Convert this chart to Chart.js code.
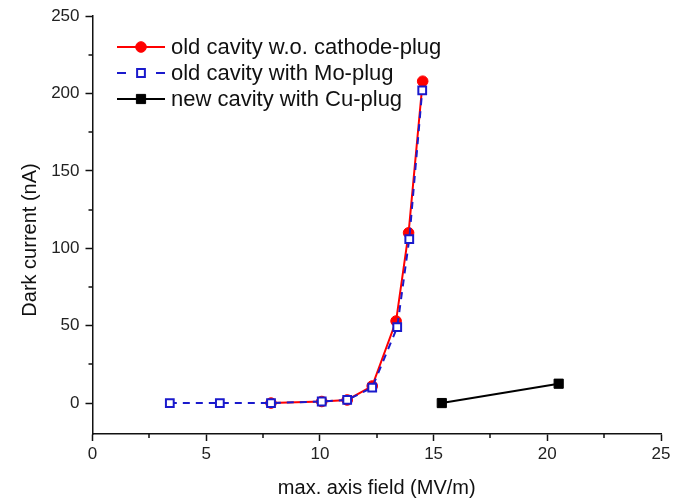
<!DOCTYPE html>
<html>
<head>
<meta charset="utf-8">
<script src="https://cdn.jsdelivr.net/npm/chart.js@4/dist/chart.umd.min.js"></script>
<style>
html,body{margin:0;padding:0;background:#fff;}
#wrap{width:675px;height:504px;position:relative;}
</style>
</head>
<body>
<div id="wrap"><canvas id="c" width="675" height="504"></canvas></div>
<script>
const seriesNames = ["old cavity w.o. cathode-plug", "old cavity with Mo-plug", "new cavity with Cu-plug"];
const oldNoPlugX = [7.85, 10.08, 11.2, 12.3, 13.35, 13.9, 14.52];
const oldNoPlugY = [0, 1, 2, 11, 53, 110, 208];
const moPlugX = [3.4, 5.6, 7.85, 10.08, 11.2, 12.3, 13.4, 13.93, 14.5];
const moPlugY = [0, 0, 0, 1, 2, 10, 49, 106, 202];
const cuPlugX = [15.36, 20.5];
const cuPlugY = [0, 12.5];
const xTicks = [0, 5, 10, 15, 20, 25];
const yTicks = [0, 50, 100, 150, 200, 250];
const xTitle = 'max. axis field (MV/m)';
const yTitle = 'Dark current (nA)';

const FONT = "Arial, 'Liberation Sans', sans-serif";
const pts = (xs, ys) => xs.map((x, i) => ({x: x, y: ys[i]}));

const minorTicks = {
  id: 'minorTicks',
  afterDraw(chart) {
    const ctx = chart.ctx, xs = chart.scales.x, ys = chart.scales.y;
    ctx.save();
    ctx.strokeStyle = '#111';
    ctx.lineWidth = 1.5;
    ctx.beginPath();
    for (let v = 2.5; v < 25; v += 5) {
      const px = Math.round(xs.getPixelForValue(v));
      ctx.moveTo(px, xs.top); ctx.lineTo(px, xs.top + 4);
    }
    for (let v = 25; v < 250; v += 50) {
      const py = Math.round(ys.getPixelForValue(v));
      ctx.moveTo(ys.right - 4, py); ctx.lineTo(ys.right, py);
    }
    ctx.stroke();
    // y axis title
    ctx.fillStyle = '#111';
    ctx.font = '20px ' + FONT;
    ctx.textAlign = 'center';
    ctx.textBaseline = 'middle';
    ctx.translate(30, 240);
    ctx.rotate(-Math.PI / 2);
    ctx.fillText(yTitle, 0, 0);
    ctx.restore();
  }
};

const legendPlugin = {
  id: 'customLegend',
  afterDraw(chart) {
    const ctx = chart.ctx;
    const order = [0, 1, 2];
    const x0 = 117, x1 = 165, tx = 171, y0 = 47, dy = 26;
    ctx.save();
    order.forEach((di, row) => {
      const ds = chart.data.datasets[di];
      const y = y0 + row * dy;
      ctx.strokeStyle = ds.borderColor;
      ctx.lineWidth = ds.borderWidth;
      ctx.beginPath();
      if (ds.borderDash) {
        ctx.moveTo(x0, y); ctx.lineTo(x0 + 9, y);
        ctx.moveTo(x1 - 9, y); ctx.lineTo(x1, y);
      } else {
        ctx.moveTo(x0, y); ctx.lineTo(x1, y);
      }
      ctx.stroke();
      const cx = (x0 + x1) / 2;
      ctx.fillStyle = ds.pointBackgroundColor;
      ctx.strokeStyle = ds.pointBorderColor;
      ctx.lineWidth = ds.pointBorderWidth;
      Chart.helpers.drawPoint(ctx, {pointStyle: ds.pointStyle, radius: ds.pointRadius, borderWidth: ds.pointBorderWidth, rotation: 0}, cx, y);
      ctx.fillStyle = '#111';
      ctx.font = '22px ' + FONT;
      ctx.textBaseline = 'middle';
      ctx.fillText(ds.label, tx, y + 1);
    });
    ctx.restore();
  }
};

new Chart(document.getElementById('c'), {
  type: 'scatter',
  data: {
    datasets: [
      {
        label: seriesNames[0], data: pts(oldNoPlugX, oldNoPlugY), showLine: true,
        borderColor: '#ff0000', borderWidth: 2, pointStyle: 'circle', pointRadius: 5.3,
        pointBackgroundColor: '#ff0000', pointBorderColor: '#ff0000', pointBorderWidth: 1, order: 2
      },
      {
        label: seriesNames[1], data: pts(moPlugX, moPlugY), showLine: true,
        borderColor: '#1a1acc', borderWidth: 2, borderDash: [7, 6], pointStyle: 'rect', pointRadius: 5.5,
        pointBackgroundColor: '#ffffff', pointBorderColor: '#1a1acc', pointBorderWidth: 2, order: 1
      },
      {
        label: seriesNames[2], data: pts(cuPlugX, cuPlugY), showLine: true,
        borderColor: '#000000', borderWidth: 2, pointStyle: 'rect', pointRadius: 6.5,
        pointBackgroundColor: '#000000', pointBorderColor: '#000000', pointBorderWidth: 1, order: 0
      }
    ]
  },
  options: {
    responsive: false,
    animation: false,
    layout: {padding: {top: 14, right: 14, left: 0, bottom: 0}},
    plugins: {legend: {display: false}, tooltip: {enabled: false}},
    scales: {
      x: {
        type: 'linear', min: 0, max: 25,
        afterFit: s => { s.height = 70; },
        afterBuildTicks: s => { s.ticks = xTicks.map(v => ({value: v})); },
        border: {color: '#111', width: 1.5},
        grid: {drawOnChartArea: false, tickLength: 7, color: '#111', tickWidth: 1.5},
        ticks: {color: '#222', font: {size: 17, family: FONT}, padding: 3, maxRotation: 0},
        title: {display: true, text: xTitle, color: '#111', font: {size: 20, family: FONT}, padding: {top: 6}}
      },
      y: {
        type: 'linear', min: -20, max: 250,
        afterFit: s => { s.width = 92.5; },
        afterBuildTicks: s => { s.ticks = yTicks.map(v => ({value: v})); },
        border: {color: '#111', width: 1.5},
        grid: {drawOnChartArea: false, tickLength: 7, color: '#111', tickWidth: 1.5},
        ticks: {color: '#222', font: {size: 17, family: FONT}, padding: 6},
        title: {display: false}
      }
    }
  },
  plugins: [minorTicks, legendPlugin]
});
</script>
</body>
</html>
